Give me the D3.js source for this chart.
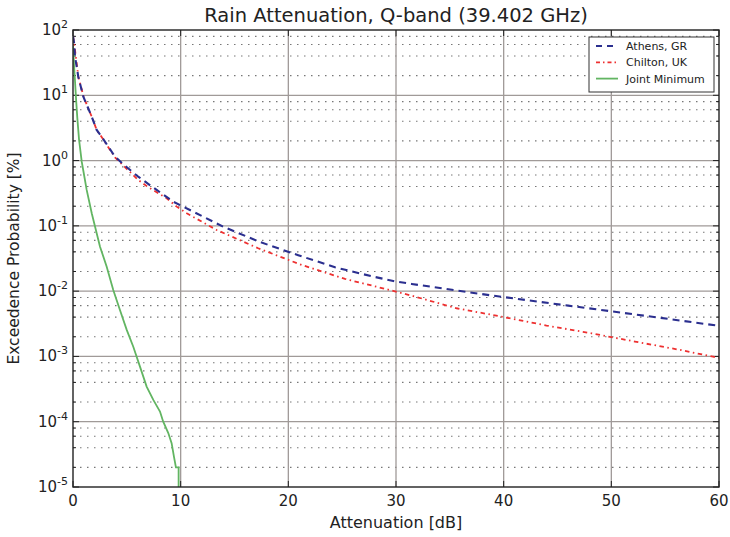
<!DOCTYPE html>
<html><head><meta charset="utf-8">
<script src="https://cdn.jsdelivr.net/npm/d3@7/dist/d3.min.js"></script>
<style>body{margin:0;background:#fff}svg{display:block;font-family:"DejaVu Sans",sans-serif}</style>
</head><body><svg id="c" width="730" height="537"></svg>
<script>
const xTicks = [0,10,20,30,40,50,60];
const yTickExps = [2,1,0,-1,-2,-3,-4,-5];
const minorMults = [2,4,6,8];

const athensX = [0,0.09,0.19,0.49,0.96,1.74,2.2,2.66,3.28,3.9,4.67,6.06,7.77,9.31,10.86,13.96,17.36,20.92,24.33,27.88,29.74,31.45,38.72,46.0,53.27,58.68,60];
const athensP = [80,66,39,19.3,9.5,4.7,2.94,2.32,1.63,1.15,0.877,0.566,0.355,0.235,0.175,0.097,0.0566,0.0355,0.0232,0.0167,0.0143,0.0129,0.00865,0.0060,0.00417,0.00315,0.00295];

const chiltonX = [0,0.09,0.5,1.0,1.74,2.2,2.66,3.28,3.9,4.67,6.06,7.0,8.7,9.63,10.56,13.34,17.2,21.23,25.26,29.43,31.45,35.63,39.8,43.98,48.16,52.18,56.36,59.45,60];
const chiltonP = [80,66,19,9.3,4.7,2.94,2.3,1.6,1.12,0.84,0.505,0.39,0.265,0.197,0.156,0.0865,0.0454,0.0252,0.0154,0.0104,0.00853,0.00547,0.00407,0.00297,0.00226,0.00169,0.00126,0.00099,0.00095];

const jointX = [0,0.1,0.2,0.3,0.4,0.56,0.81,1.0,1.27,1.74,2.51,3.13,3.74,4.36,4.99,5.6,6.22,6.84,7.46,8.08,8.38,8.85,9.16,9.38,9.56,9.81,9.81];
const jointP = [60,28,15,8,4.5,2.1,0.96,0.64,0.355,0.156,0.048,0.0237,0.0104,0.00515,0.00255,0.00141,0.000698,0.000345,0.000216,0.000143,0.0001,0.000067,0.000047,0.000029,0.00002,0.00002,0.00001];

const seriesNames = ["Athens, GR","Chilton, UK","Joint Minimum"];

const L=73,R=719,T=30,B=487;
const svg=d3.select("#c");
const x=d3.scaleLinear().domain([0,60]).range([L,R]);
const y=d3.scaleLog().domain([1e-5,100]).range([B,T]);

// minor dotted grid
const minorVals=[];
yTickExps.forEach(e=>{ if(e<2) minorMults.forEach(m=>minorVals.push(m*Math.pow(10,e))); });
svg.append("g").selectAll("line").data(minorVals).join("line")
  .attr("x1",L).attr("x2",R).attr("y1",d=>y(d)).attr("y2",d=>y(d))
  .attr("stroke","#777").attr("stroke-width",1.1).attr("stroke-dasharray","1.5,5.5");
// major grid
svg.append("g").selectAll("line").data(yTickExps.slice(1,-1)).join("line")
  .attr("x1",L).attr("x2",R).attr("y1",d=>y(Math.pow(10,d))).attr("y2",d=>y(Math.pow(10,d)))
  .attr("stroke","#a09a98").attr("stroke-width",1.3);
svg.append("g").selectAll("line").data(xTicks.slice(1,-1)).join("line")
  .attr("y1",T).attr("y2",B).attr("x1",d=>x(d)).attr("x2",d=>x(d))
  .attr("stroke","#a09a98").attr("stroke-width",1.3);

// inner ticks
const tk=svg.append("g").attr("stroke","#222");
minorVals.forEach(v=>{tk.append("line").attr("x1",L).attr("x2",L+3).attr("y1",y(v)).attr("y2",y(v));
  tk.append("line").attr("x1",R).attr("x2",R-3).attr("y1",y(v)).attr("y2",y(v));});
yTickExps.forEach(e=>{const v=y(Math.pow(10,e));tk.append("line").attr("x1",L).attr("x2",L+6).attr("y1",v).attr("y2",v);
  tk.append("line").attr("x1",R).attr("x2",R-6).attr("y1",v).attr("y2",v);});
xTicks.forEach(t=>{tk.append("line").attr("x1",x(t)).attr("x2",x(t)).attr("y1",B).attr("y2",B-6);
  tk.append("line").attr("x1",x(t)).attr("x2",x(t)).attr("y1",T).attr("y2",T+6);});

svg.append("clipPath").attr("id","cp").append("rect").attr("x",L).attr("y",T).attr("width",R-L).attr("height",B-T);
const line=d3.line().x(d=>x(d[0])).y(d=>y(d[1]));
const g=svg.append("g").attr("clip-path","url(#cp)");
g.append("path").datum(jointX.map((v,i)=>[v,jointP[i]])).attr("d",line)
  .attr("fill","none").attr("stroke","#62b562").attr("stroke-width",1.8);
g.append("path").datum(chiltonX.map((v,i)=>[v,chiltonP[i]])).attr("d",line)
  .attr("fill","none").attr("stroke","#ee3030").attr("stroke-width",1.8).attr("stroke-dasharray","4.5,3.5,1.5,3.5");
g.append("path").datum(athensX.map((v,i)=>[v,athensP[i]])).attr("d",line)
  .attr("fill","none").attr("stroke","#2b2f8f").attr("stroke-width",2.1).attr("stroke-dasharray","7,5");

// frame
svg.append("rect").attr("x",L).attr("y",T).attr("width",R-L).attr("height",B-T)
  .attr("fill","none").attr("stroke","#222").attr("stroke-width",1.4);

// x tick labels
svg.append("g").selectAll("text").data(xTicks).join("text")
  .attr("x",d=>x(d)).attr("y",B+19).attr("text-anchor","middle")
  .attr("font-size",15).attr("fill","#222").text(d=>d);
// y tick labels
const yl=svg.append("g");
yTickExps.forEach(e=>{
  const t=yl.append("text").attr("x",L-5).attr("y",y(Math.pow(10,e))+5).attr("text-anchor","end")
    .attr("font-size",15).attr("fill","#222");
  t.append("tspan").text("10");
  t.append("tspan").attr("dy",-7).attr("font-size",11).text(String(e));
});

svg.append("text").attr("x",(L+R)/2).attr("y",22).attr("text-anchor","middle")
  .attr("font-size",19.5).attr("fill","#222").text("Rain Attenuation, Q-band (39.402 GHz)");
svg.append("text").attr("x",(L+R)/2).attr("y",528).attr("text-anchor","middle")
  .attr("font-size",16).attr("fill","#222").text("Attenuation [dB]");
svg.append("text").attr("transform",`translate(19,${(T+B)/2}) rotate(-90)`).attr("text-anchor","middle")
  .attr("font-size",15.5).attr("fill","#222").text("Exceedence Probability [%]");

// legend
const lg=svg.append("g");
lg.append("rect").attr("x",589).attr("y",37).attr("width",125).attr("height",55)
  .attr("fill","#fff").attr("stroke","#333").attr("stroke-width",1);
const styles=[{c:"#2b2f8f",d:"6,5",w:2},{c:"#ee3030",d:"4,3,1.5,3",w:1.8},{c:"#62b562",d:null,w:1.8}];
seriesNames.forEach((n,i)=>{
  const yy=46+i*16.3;
  const ln=lg.append("line").attr("x1",596).attr("x2",618).attr("y1",yy).attr("y2",yy)
    .attr("stroke",styles[i].c).attr("stroke-width",styles[i].w);
  if(styles[i].d) ln.attr("stroke-dasharray",styles[i].d);
  lg.append("text").attr("x",626).attr("y",yy+4).attr("font-size",11).attr("fill","#222").text(n);
});
</script></body></html>
